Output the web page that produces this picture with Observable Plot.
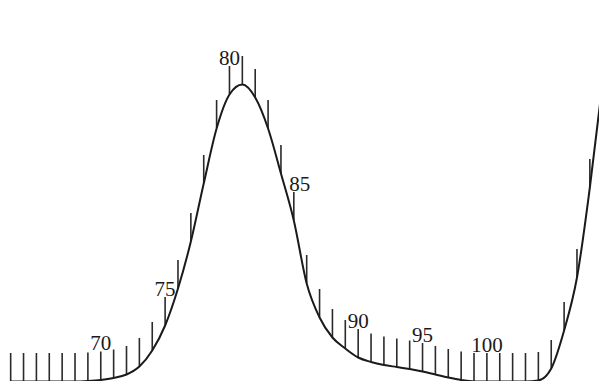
<!DOCTYPE html>
<html>
<head>
<meta charset="utf-8">
<script src="https://cdn.jsdelivr.net/npm/d3@7"></script>
<script src="https://cdn.jsdelivr.net/npm/@observablehq/plot@0.6"></script>
<style>
  html, body { margin: 0; padding: 0; background: #fff; }
  #chart svg { display: block; }
</style>
</head>
<body>
<div id="chart"></div>
<script>
// Fraction numbers (tick marks) and the curve height above baseline at each fraction
const fractions = [63,64,65,66,67,68,69,70,71,72,73,74,75,76,77,78,79,80,81,82,83,84,85,86,87,88,89,90,91,92,93,94,95,96,97,98,99,100,101,102,103,104,105,106,107,108];
const heights   = [0,0,0,0,0,0,0.5,1.5,3.5,7,15,31,56,93,140,198,253,287,297,284,253,208,161,98,64,44,33,24,19.5,16.5,14.5,12.5,10,7,4,1.5,0,0,0,0,0,1,13,51,104,194];
// curve continues off the right edge
const curveExtraX = [109];
const curveExtraY = [300];
const labelFractions = [70, 75, 80, 85, 90, 95, 100];

const ticks = fractions.map((f, i) => ({f, v: heights[i]}));
const curve = ticks.concat(curveExtraX.map((f, i) => ({f, v: curveExtraY[i]})));
const labels = ticks.filter(d => labelFractions.includes(d.f));
const TICK = 28;

const chart = Plot.plot({
  width: 599,
  height: 383,
  marginLeft: 0,
  marginRight: 0,
  marginTop: 0,
  marginBottom: 2,
  x: {domain: [62.21, 108.75], axis: null},
  y: {domain: [0, 381], axis: null},
  style: {background: "#fff", fontFamily: "'Liberation Serif', 'DejaVu Serif', serif"},
  marks: [
    Plot.ruleX(ticks, {x: "f", y1: "v", y2: d => d.v + TICK, stroke: "#2a2a2a", strokeWidth: 1.6}),
    Plot.line(curve, {x: "f", y: "v", curve: "monotone-x", stroke: "#1a1a1a", strokeWidth: 2, clip: true}),
    Plot.text(labels.filter(d => d.f !== 85), {x: "f", y: d => d.v + TICK, text: d => String(d.f), lineAnchor: "bottom", dy: -2, fontSize: 21, fill: "#1a1a1a"}),
    Plot.text(labels.filter(d => d.f === 85), {x: "f", y: d => d.v + TICK, text: d => String(d.f), lineAnchor: "bottom", dy: -2, dx: 6, fontSize: 21, fill: "#1a1a1a"})
  ]
});
document.getElementById("chart").append(chart);
</script>
</body>
</html>
